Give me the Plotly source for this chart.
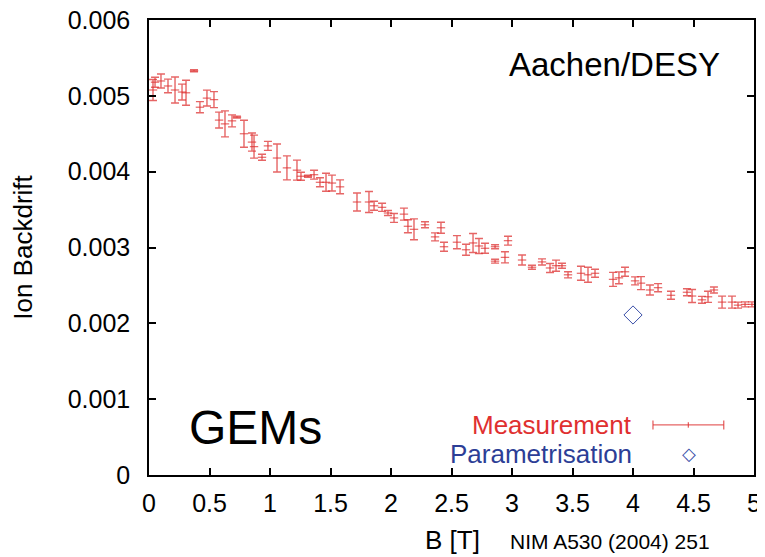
import plotly.graph_objects as go

# Measurement data: B [T], ion backdrift, error
b_field = [0.033, 0.050, 0.099, 0.157, 0.215, 0.273, 0.306, 0.372, 0.421, 0.479,
           0.537, 0.579, 0.628, 0.686, 0.727, 0.785, 0.851, 0.868, 0.934, 0.983,
           1.058, 1.140, 1.223, 1.256, 1.314, 1.364, 1.413, 1.463, 1.512, 1.579,
           1.719, 1.818, 1.860, 1.926, 1.975, 2.025, 2.107, 2.140, 2.190, 2.281,
           2.364, 2.413, 2.438, 2.545, 2.620, 2.678, 2.727, 2.777, 2.860, 2.860,
           2.942, 2.967, 3.083, 3.165, 3.248, 3.314, 3.364, 3.413, 3.463, 3.570,
           3.628, 3.686, 3.835, 3.884, 3.934, 4.017, 4.066, 4.140, 4.207, 4.314,
           4.446, 4.488, 4.570, 4.620, 4.669, 4.736, 4.818, 4.868, 4.926, 4.983]
backdrift = [5.077, 5.18, 5.196, 5.13, 5.077, 5.05, 5.04, 5.33, 4.85, 4.97,
             4.95, 4.68, 4.63, 4.67, 4.72, 4.50, 4.39, 4.33, 4.19, 4.34,
             4.18, 4.05, 4.02, 3.94, 3.94, 3.96, 3.86, 3.86, 3.85, 3.80,
             3.60, 3.60, 3.55, 3.53, 3.455, 3.39, 3.44, 3.28, 3.24, 3.30,
             3.14, 3.26, 3.01, 3.07, 2.97, 3.06, 3.02, 2.99, 3.01, 2.82,
             2.87, 3.09, 2.835, 2.74, 2.81, 2.73, 2.76, 2.76, 2.64, 2.66,
             2.64, 2.66, 2.58, 2.60, 2.68, 2.56, 2.53, 2.44, 2.47, 2.37,
             2.41, 2.36, 2.31, 2.35, 2.44, 2.28, 2.28, 2.24, 2.25, 2.25]
backdrift_err = [0.138, 0.066, 0.092, 0.09, 0.171, 0.105, 0.165, 0.013, 0.073, 0.105,
                 0.105, 0.105, 0.171, 0.079, 0.013, 0.178, 0.119, 0.152, 0.04, 0.059,
                 0.185, 0.158, 0.132, 0.053, 0.013, 0.059, 0.059, 0.119, 0.105, 0.092,
                 0.119, 0.138, 0.059, 0.053, 0.033, 0.059, 0.079, 0.086, 0.138, 0.04,
                 0.053, 0.073, 0.059, 0.086, 0.073, 0.125, 0.099, 0.066, 0.026, 0.026,
                 0.073, 0.059, 0.066, 0.026, 0.04, 0.059, 0.073, 0.033, 0.04, 0.092,
                 0.099, 0.053, 0.092, 0.079, 0.059, 0.053, 0.086, 0.066, 0.053, 0.053,
                 0.046, 0.086, 0.046, 0.073, 0.04, 0.079, 0.079, 0.04, 0.033, 0.033]
backdrift = [v * 1e-3 for v in backdrift]
backdrift_err = [v * 1e-3 for v in backdrift_err]

# Parametrisation point
param_b = [4.0]
param_val = [0.00211]

x_ticks = [0, 0.5, 1, 1.5, 2, 2.5, 3, 3.5, 4, 4.5, 5]
y_ticks = [0, 0.001, 0.002, 0.003, 0.004, 0.005, 0.006]

RED = "rgba(222,50,50,0.75)"
BLUE = "#3a4fa8"
FONT = "Liberation Sans, Arial, sans-serif"

fig = go.Figure()
fig.add_trace(go.Scatter(
    x=b_field, y=backdrift, mode="markers",
    marker=dict(symbol="line-ew", size=6, line=dict(color=RED, width=1.2)),
    error_y=dict(type="data", array=backdrift_err, visible=True,
                 color=RED, thickness=1.4, width=4),
    showlegend=False,
))
fig.add_trace(go.Scatter(
    x=param_b, y=param_val, mode="markers",
    marker=dict(symbol="diamond-open", size=14, color=BLUE, line=dict(width=1)),
    showlegend=False,
))

axis_common = dict(
    showgrid=False, zeroline=False, showline=True, linecolor="black", linewidth=1.5,
    mirror="ticks", ticks="inside", ticklen=7, tickwidth=1.5, tickcolor="black",
    tickfont=dict(family=FONT, size=25, color="black"),
    ticklabeloverflow="allow", automargin=False,
)
fig.update_xaxes(range=[0, 5], tickvals=x_ticks, ticktext=[f"{t:g}" for t in x_ticks],
                 ticklabelstandoff=5, **axis_common)
fig.update_yaxes(range=[0, 0.006], tickvals=y_ticks,
                 ticktext=[f"{t:g}" if t else "0" for t in y_ticks],
                 ticklabelstandoff=12,
                 title=dict(text="Ion Backdrift", font=dict(family=FONT, size=26, color="black"),
                            standoff=33),
                 **axis_common)

annotations = [
    dict(text="Aachen/DESY", x=0.947, y=0.903, xref="paper", yref="paper", xanchor="right",
         yanchor="middle", showarrow=False, font=dict(family=FONT, size=33, color="black")),
    dict(text="GEMs", x=0.063, y=0.105, xref="paper", yref="paper", xanchor="left",
         yanchor="middle", showarrow=False, font=dict(family=FONT, size=48, color="black")),
    dict(text="Measurement", x=0.802, y=0.110, xref="paper", yref="paper", xanchor="right",
         yanchor="middle", showarrow=False, font=dict(family=FONT, size=26, color="#e03030")),
    dict(text="Parametrisation", x=0.802, y=0.046, xref="paper", yref="paper", xanchor="right",
         yanchor="middle", showarrow=False, font=dict(family=FONT, size=26, color="#2c3e96")),
    dict(text="B [T]", x=0.502, y=-0.143, xref="paper", yref="paper", xanchor="center",
         yanchor="middle", showarrow=False, font=dict(family=FONT, size=26, color="black")),
    dict(text="NIM A530 (2004) 251", x=0.593, y=-0.147, xref="paper", yref="paper", xanchor="left",
         yanchor="middle", showarrow=False, font=dict(family=FONT, size=21, color="black")),
    dict(text="\u25c7", x=0.893, y=0.048, xref="paper", yref="paper", xanchor="center",
         yanchor="middle", showarrow=False, font=dict(family="DejaVu Sans", size=18, color=BLUE)),
]

# legend key for measurement: horizontal line with end caps and centre tick
lx0, lx1, ly = 0.833, 0.950, 0.110
shapes = [
    dict(type="line", xref="paper", yref="paper", x0=lx0, x1=lx1, y0=ly, y1=ly,
         line=dict(color=RED, width=1.3)),
    dict(type="line", xref="paper", yref="paper", x0=lx0, x1=lx0, y0=ly - 0.01, y1=ly + 0.01,
         line=dict(color=RED, width=1.3)),
    dict(type="line", xref="paper", yref="paper", x0=lx1, x1=lx1, y0=ly - 0.01, y1=ly + 0.01,
         line=dict(color=RED, width=1.3)),
    dict(type="line", xref="paper", yref="paper", x0=(lx0 + lx1) / 2, x1=(lx0 + lx1) / 2,
         y0=ly - 0.006, y1=ly + 0.006, line=dict(color=RED, width=1.3)),
]

fig.update_layout(
    width=765, height=557,
    margin=dict(l=141, r=19, t=12, b=90),
    paper_bgcolor="white", plot_bgcolor="white",
    annotations=annotations, shapes=shapes,
    font=dict(family=FONT),
)

fig.write_html("out.html")
